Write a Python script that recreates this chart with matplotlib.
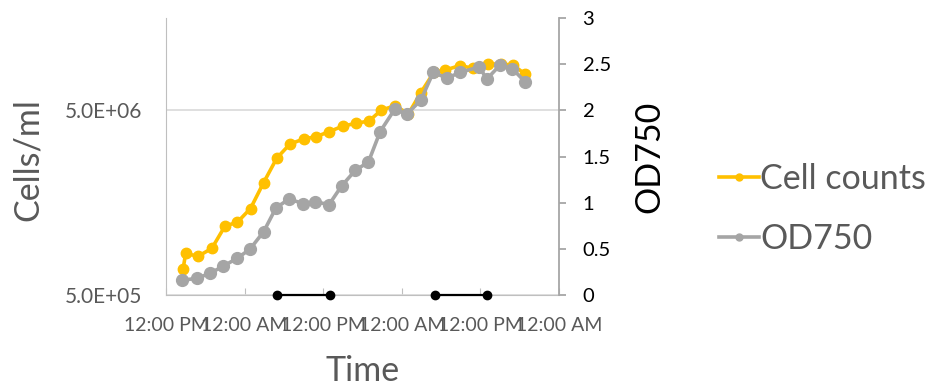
import matplotlib
matplotlib.use("Agg")
import matplotlib.pyplot as plt
from matplotlib.lines import Line2D

plt.rcParams['font.family'] = ['Lato', 'DejaVu Sans']

# 细胞计数（左轴，对数）
cell_hours = [2.6, 3.0, 4.9, 7.0, 9.0, 10.9, 12.9, 14.9, 16.9, 18.9, 21.0, 22.9, 24.9, 27.0,
              29.0, 31.0, 32.9, 35.0, 37.0, 38.9, 40.9, 42.6, 44.9, 46.9, 49.2, 51.1, 53.0, 54.8]
cell_counts = [6.9e5, 8.4e5, 8.1e5, 8.95e5, 1.18e6, 1.24e6, 1.47e6, 2.03e6, 2.75e6, 3.28e6,
               3.50e6, 3.60e6, 3.83e6, 4.11e6, 4.25e6, 4.38e6, 5.02e6, 5.30e6, 4.78e6, 6.23e6,
               8.03e6, 8.26e6, 8.74e6, 8.44e6, 8.91e6, 8.91e6, 8.79e6, 7.87e6]

# OD750（右轴）
od_hours = [2.4, 4.7, 6.7, 8.7, 10.9, 12.8, 14.9, 16.8, 18.8, 20.9, 22.7, 24.9, 26.8, 28.9,
            30.9, 32.7, 34.9, 36.8, 38.9, 40.8, 42.9, 44.9, 47.8, 49.0, 51.0, 52.9, 54.8]
od750 = [0.16, 0.18, 0.235, 0.31, 0.40, 0.495, 0.685, 0.945, 1.04, 0.99, 1.01, 0.98, 1.18, 1.35,
         1.44, 1.77, 2.01, 1.96, 2.11, 2.41, 2.35, 2.41, 2.47, 2.34, 2.49, 2.45, 2.31]

# 黑暗期
dark_periods = [(17, 25), (41, 49)]

x_ticks = [0, 12, 24, 36, 48, 60]
x_labels = ['12:00 PM', '12:00 AM', '12:00 PM', '12:00 AM', '12:00 PM', '12:00 AM']
od_ticks = [0, 0.5, 1, 1.5, 2, 2.5, 3]

yellow = '#FFC000'
grey = '#A5A5A5'
txt = '#595959'
axis_col = '#BFBFBF'

fig = plt.figure(figsize=(9.29, 3.87), dpi=100)
ax = fig.add_axes([0.1787, 0.2377, 0.4230, 0.7158])
ax2 = ax.twinx()

ax.plot(cell_hours, cell_counts, color=yellow, lw=2.6, marker='o', ms=7.5, label='Cell counts')
ax2.plot(od_hours, od750, color=grey, lw=2.6, marker='o', ms=8.5, label='OD750')

for start, end in dark_periods:
    ax2.plot([start, end], [0, 0], color='black', lw=1.6, marker='o', ms=6, clip_on=False, zorder=5)

ax.set_yscale('log')
ax.set_ylim(5e5, 5e5 * 10 ** 1.5)
ax.set_yticks([5e5, 5e6])
ax.set_yticklabels(['5.0E+05', '5.0E+06'])
ax.yaxis.set_minor_locator(matplotlib.ticker.NullLocator())
ax.grid(axis='y', which='major', color='#D9D9D9', lw=1.2)
ax.set_axisbelow(True)

ax.set_xlim(0, 60)
ax.set_xticks(x_ticks)
ax.set_xticklabels(x_labels)

ax2.set_ylim(0, 3)
ax2.set_yticks(od_ticks)
ax2.set_yticklabels(['0', '0.5', '1', '1.5', '2', '2.5', '3'])

for a in (ax, ax2):
    a.spines['top'].set_visible(False)
ax.spines['left'].set_color(axis_col)
ax.spines['bottom'].set_color(axis_col)
ax.spines['right'].set_visible(False)
ax2.spines['left'].set_visible(False)
ax2.spines['bottom'].set_visible(False)
ax2.spines['right'].set_color('#A6A6A6')
ax2.spines['right'].set_linewidth(1.3)

ax.tick_params(axis='y', length=0, pad=17, labelsize=15, labelcolor=txt)
ax.tick_params(axis='x', direction='in', length=5, color=axis_col, pad=16, labelsize=14, labelcolor=txt)
ax2.tick_params(axis='y', direction='out', length=5, color='#A6A6A6', width=1.3, pad=12,
                labelsize=14.5, labelcolor='black')

ax.set_ylabel('Cells/ml', fontsize=24.5, color=txt)
ax.yaxis.set_label_coords(-0.312, 0.49)
ax2.set_ylabel('OD750', fontsize=24.5, color='black')
ax2.yaxis.set_label_coords(1.19, 0.5)
ax.set_xlabel('Time', fontsize=24.5, color=txt)
ax.xaxis.set_label_coords(0.5, -0.215)

handles = [Line2D([0], [0], color=yellow, lw=2.6, marker='o', ms=5),
           Line2D([0], [0], color=grey, lw=2.6, marker='o', ms=5)]
fig.legend(handles, ['Cell counts', 'OD750'], loc='center left', bbox_to_anchor=(0.7405, 0.46),
           frameon=False, fontsize=24.5, labelcolor=txt, handlelength=1.18, handletextpad=0.05,
           labelspacing=0.82, numpoints=1)

fig.savefig('out.png', dpi=100)
